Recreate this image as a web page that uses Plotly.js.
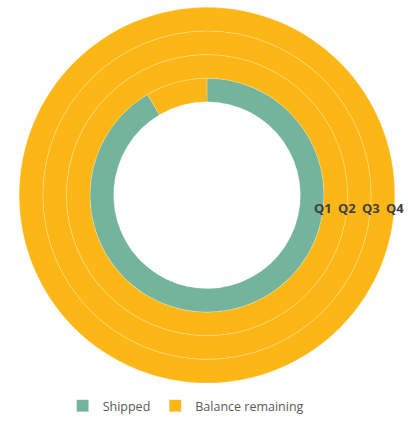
<!DOCTYPE html>
<html>
<head>
<meta charset="utf-8">
<script src="https://cdn.plot.ly/plotly-3.0.1.min.js"></script>
<style>html,body{margin:0;padding:0;background:#fff;}#chart{width:408px;height:421px;}</style>
</head>
<body>
<div id="chart"></div>
<script>
// Data
const quarters = ["Q1", "Q2", "Q3", "Q4"];
const seriesNames = ["Shipped", "Balance remaining"];
const shipped = [91.5, 0, 0, 0];
const balance = [8.5, 100, 100, 100];

// Styling / geometry
const W = 408, H = 421;
const cx = 207, cy = 197.5;          // pixel centre of rings
const hole = 94.5;                    // inner radius of Q1 ring (px)
const ringW = 23.9;                   // ring width (px)
const colors = ["#75B49C", "#FCB716"];

const traces = [];
const annotations = [];
quarters.forEach((q, i) => {
  const rIn = hole + i * ringW;
  const rOut = rIn + ringW;
  traces.push({
    type: "pie",
    labels: seriesNames,
    values: [shipped[i], balance[i]],
    name: q,
    sort: false,
    direction: "clockwise",
    rotation: 0,
    hole: rIn / rOut,
    textinfo: "none",
    hoverinfo: "label+value+name",
    marker: { colors: colors, line: { color: "rgba(255,255,255,0.35)", width: 0.6 } },
    domain: {
      x: [(cx - rOut) / W, (cx + rOut) / W],
      y: [(H - cy - rOut) / H, (H - cy + rOut) / H]
    },
    showlegend: true
  });
  const rMid = (rIn + rOut) / 2;
  annotations.push({
    text: "<b>" + q + "</b>",
    xref: "paper", yref: "paper",
    x: (cx + rMid + 10) / W,
    y: (H - 210) / H,
    xanchor: "center", yanchor: "middle",
    showarrow: false,
    font: { family: "Open Sans, sans-serif", size: 13, color: "#404040" }
  });
});

const layout = {
  width: W, height: H,
  margin: { l: 0, r: 0, t: 0, b: 0 },
  paper_bgcolor: "#ffffff",
  showlegend: true,
  legend: {
    orientation: "h",
    x: 0.455, xanchor: "center",
    y: (H - 411) / H, yanchor: "middle",
    font: { family: "Open Sans, sans-serif", size: 12.5, color: "#595959" },
    traceorder: "normal",
    itemwidth: 30
  },
  annotations: annotations
};

Plotly.newPlot("chart", traces, layout, { displayModeBar: false, staticPlot: true });
</script>
</body>
</html>
